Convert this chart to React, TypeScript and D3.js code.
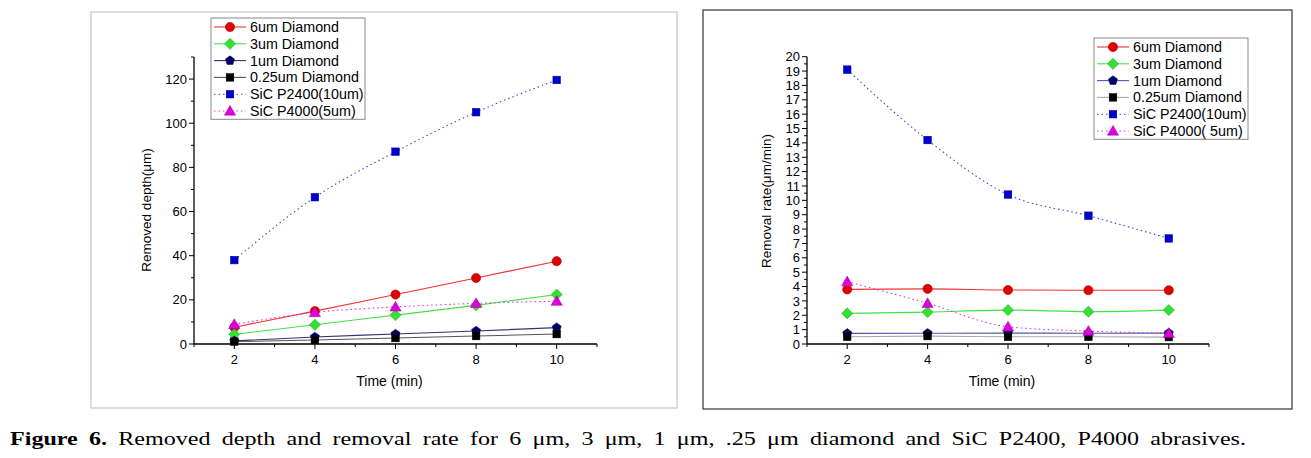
import * as d3 from "d3";

const times = [2, 4, 6, 8, 10];

// removed depth (um)
const depth6 = [7.6, 14.9, 22.4, 29.9, 37.5];
const depth3 = [4.4, 8.7, 13.1, 17.5, 22.4];
const depth1 = [1.4, 3.2, 4.5, 5.9, 7.4];
const depth025 = [1.1, 1.8, 2.7, 3.6, 4.5];
const depthP2400 = [38, 66.5, 87.1, 105, 119.6];
const depthP4000 = [8.9, 14.3, 16.8, 18.4, 19.4];

// removal rate (um/min)
const rate6 = [3.8, 3.84, 3.76, 3.74, 3.74];
const rate3 = [2.13, 2.22, 2.36, 2.25, 2.36];
const rate1 = [0.74, 0.75, 0.76, 0.75, 0.76];
const rate025 = [0.5, 0.55, 0.5, 0.5, 0.48];
const rateP2400 = [19.1, 14.2, 10.4, 8.93, 7.35];
const rateP4000 = [4.34, 2.83, 1.2, 0.9, 0.75];

const leftNames = ["6um Diamond", "3um Diamond", "1um Diamond", "0.25um Diamond", "SiC P2400(10um)", "SiC P4000(5um)"];
const rightNames = ["6um Diamond", "3um Diamond", "1um Diamond", "0.25um Diamond", "SiC P2400(10um)", "SiC P4000( 5um)"];

const xTicks = [2, 4, 6, 8, 10];
const caption = " Removed depth and removal rate for 6 μm, 3 μm, 1 μm, .25 μm diamond and SiC P2400, P4000 abrasives.";

type Shape = "circle" | "diamond" | "pentagon" | "square" | "triangle";

interface Series {
  name: string;
  values: number[];
  line: string;
  marker: string;
  shape: Shape;
  dotted: boolean;
}

function Marker({ shape, x, y, color }: { shape: Shape; x: number; y: number; color: string }) {
  const stroke = d3.color(color)!.darker(0.8).toString();
  if (shape === "circle") return <circle cx={x} cy={y} r={4.6} fill={color} stroke={stroke} strokeWidth={0.6} />;
  if (shape === "square") return <rect x={x - 3.8} y={y - 3.8} width={7.6} height={7.6} fill={color} stroke={stroke} strokeWidth={0.5} />;
  if (shape === "diamond") {
    const s = 5.6;
    return <polygon points={`${x},${y - s} ${x + s},${y} ${x},${y + s} ${x - s},${y}`} fill={color} stroke={stroke} strokeWidth={0.5} />;
  }
  if (shape === "triangle") {
    const s = 5.6;
    return <polygon points={`${x},${y - s} ${x + s},${y + s * 0.75} ${x - s},${y + s * 0.75}`} fill={color} stroke={stroke} strokeWidth={0.5} />;
  }
  const r = 4.8;
  const pts = d3.range(5).map((i) => {
    const a = -Math.PI / 2 + (i * 2 * Math.PI) / 5;
    return `${x + r * Math.cos(a)},${y + r * Math.sin(a)}`;
  });
  return <polygon points={pts.join(" ")} fill={color} stroke={stroke} strokeWidth={0.5} />;
}

interface PanelProps {
  series: Series[];
  x0: number;
  x1: number;
  y0: number;
  y1: number;
  yMax: number;
  yMajor: number;
  yMinor: number;
  yLabel: string;
  yLabelX: number;
  yLabelY: number;
  legendX: number;
  legendY: number;
  legendW: number;
  border: { x: number; y: number; w: number; h: number; color: string };
}

function Panel(p: PanelProps) {
  const x = d3.scaleLinear().domain([1, 11]).range([p.x0, p.x1]);
  const y = d3.scaleLinear().domain([0, p.yMax]).range([p.y0, p.y1]);
  const line = d3
    .line<number>()
    .x((_, i) => x(times[i]))
    .y((v) => y(v))
    .curve(d3.curveMonotoneX);
  const xMinor = d3.range(1, 12);
  const yMinorTicks = d3.range(0, p.yMax + 0.001, p.yMinor);
  const yMajorTicks = d3.range(0, p.yMax + 0.001, p.yMajor).filter((v) => v < p.yMax - 0.001 || p.yMax % p.yMajor === 0);
  const font = "Liberation Sans, Arial, sans-serif";
  const rowH = 16.8;
  return (
    <g>
      <rect x={p.border.x} y={p.border.y} width={p.border.w} height={p.border.h} fill="#fff" stroke={p.border.color} strokeWidth={1.3} />
      {/* axes */}
      <line x1={p.x0} x2={p.x1} y1={p.y0} y2={p.y0} stroke="#000" strokeWidth={1.3} />
      <line x1={p.x0} x2={p.x0} y1={p.y0} y2={p.y1} stroke="#000" strokeWidth={1.3} />
      {xMinor.map((t) => (
        <line key={"xm" + t} x1={x(t)} x2={x(t)} y1={p.y0} y2={p.y0 + (t % 2 === 0 ? 5 : 3)} stroke="#000" strokeWidth={1} />
      ))}
      {xTicks.map((t) => (
        <text key={"xl" + t} x={x(t)} y={p.y0 + 20} textAnchor="middle" fontFamily={font} fontSize={13}>
          {t}
        </text>
      ))}
      {yMinorTicks.map((t) => {
        const major = Math.abs(t / p.yMajor - Math.round(t / p.yMajor)) < 1e-6;
        return <line key={"ym" + t} x1={p.x0} x2={p.x0 - (major ? 5 : 3)} y1={y(t)} y2={y(t)} stroke="#000" strokeWidth={1} />;
      })}
      {yMajorTicks.map((t) => (
        <text key={"yl" + t} x={p.x0 - 7} y={y(t) + 4.6} textAnchor="end" fontFamily={font} fontSize={13}>
          {t}
        </text>
      ))}
      <text x={(p.x0 + p.x1) / 2 - 6} y={p.y0 + 42} textAnchor="middle" fontFamily={font} fontSize={14}>
        Time (min)
      </text>
      <text
        transform={`translate(${p.yLabelX},${p.yLabelY}) rotate(-90)`}
        textAnchor="middle"
        fontFamily={font}
        fontSize={13.5}
      >
        {p.yLabel}
      </text>
      {/* lines */}
      {p.series.map((s) => (
        <path
          key={"l" + s.name}
          d={line(s.values) ?? ""}
          fill="none"
          stroke={s.line}
          strokeWidth={1.1}
          strokeDasharray={s.dotted ? "1.5 3" : undefined}
        />
      ))}
      {p.series.map((s) => (
        <g key={"m" + s.name}>
          {s.values.map((v, i) => (
            <Marker key={i} shape={s.shape} x={x(times[i])} y={y(v)} color={s.marker} />
          ))}
        </g>
      ))}
      {/* legend */}
      <rect x={p.legendX} y={p.legendY} width={p.legendW} height={rowH * 6 + 0.5} fill="#fff" stroke="#888" strokeWidth={1} />
      {p.series.map((s, i) => {
        const cy = p.legendY + 9 + i * rowH;
        return (
          <g key={"lg" + s.name}>
            <line
              x1={p.legendX + 3}
              x2={p.legendX + 35}
              y1={cy}
              y2={cy}
              stroke={s.line}
              strokeWidth={1.1}
              strokeDasharray={s.dotted ? "1.5 3" : undefined}
            />
            <Marker shape={s.shape} x={p.legendX + 19} y={cy} color={s.marker} />
            <text x={p.legendX + 39} y={cy + 5} fontFamily={font} fontSize={14.3}>
              {s.name}
            </text>
          </g>
        );
      })}
    </g>
  );
}

function makeSeries(names: string[], vals: number[][], grayLine: string, navyLine: string): Series[] {
  return [
    { name: names[0], values: vals[0], line: "#e33", marker: "#e00000", shape: "circle", dotted: false },
    { name: names[1], values: vals[1], line: "#44e044", marker: "#33e033", shape: "diamond", dotted: false },
    { name: names[2], values: vals[2], line: navyLine, marker: "#000066", shape: "pentagon", dotted: false },
    { name: names[3], values: vals[3], line: grayLine, marker: "#000000", shape: "square", dotted: false },
    { name: names[4], values: vals[4], line: "#4444cc", marker: "#0000cc", shape: "square", dotted: true },
    { name: names[5], values: vals[5], line: "#dd33dd", marker: "#dd00dd", shape: "triangle", dotted: true },
  ];
}

export default function App() {
  const leftSeries = makeSeries(leftNames, [depth6, depth3, depth1, depth025, depthP2400, depthP4000], "#555", "#333377");
  const rightSeries = makeSeries(rightNames, [rate6, rate3, rate1, rate025, rateP2400, rateP4000], "#aaa", "#5555aa");
  return (
    <div style={{ position: "absolute", left: 0, top: 0 }}>
      <svg width={1311} height={458} style={{ display: "block" }}>
        <rect width={1311} height={458} fill="#fff" />
        <Panel
          series={leftSeries}
          x0={194}
          x1={597}
          y0={344}
          y1={57}
          yMax={130}
          yMajor={20}
          yMinor={10}
          yLabel="Removed depth(μm)"
          yLabelX={151}
          yLabelY={210}
          legendX={211}
          legendY={18}
          legendW={154}
          border={{ x: 91, y: 12, w: 586, h: 396, color: "#ccc" }}
        />
        <Panel
          series={rightSeries}
          x0={807}
          x1={1209}
          y0={344}
          y1={56.7}
          yMax={20}
          yMajor={1}
          yMinor={0.5}
          yLabel="Removal rate(μm/min)"
          yLabelX={771}
          yLabelY={201}
          legendX={1094}
          legendY={38}
          legendW={154}
          border={{ x: 703, y: 10, w: 589, h: 399, color: "#444" }}
        />
        <text
          x={10}
          y={445}
          fontFamily="Liberation Serif, Times New Roman, serif"
          fontSize={18.5}
          wordSpacing={4}
          textLength={1236}
          lengthAdjust="spacingAndGlyphs"
        >
          <tspan fontWeight="bold">Figure 6.</tspan>
          {caption}
        </text>
      </svg>
    </div>
  );
}
